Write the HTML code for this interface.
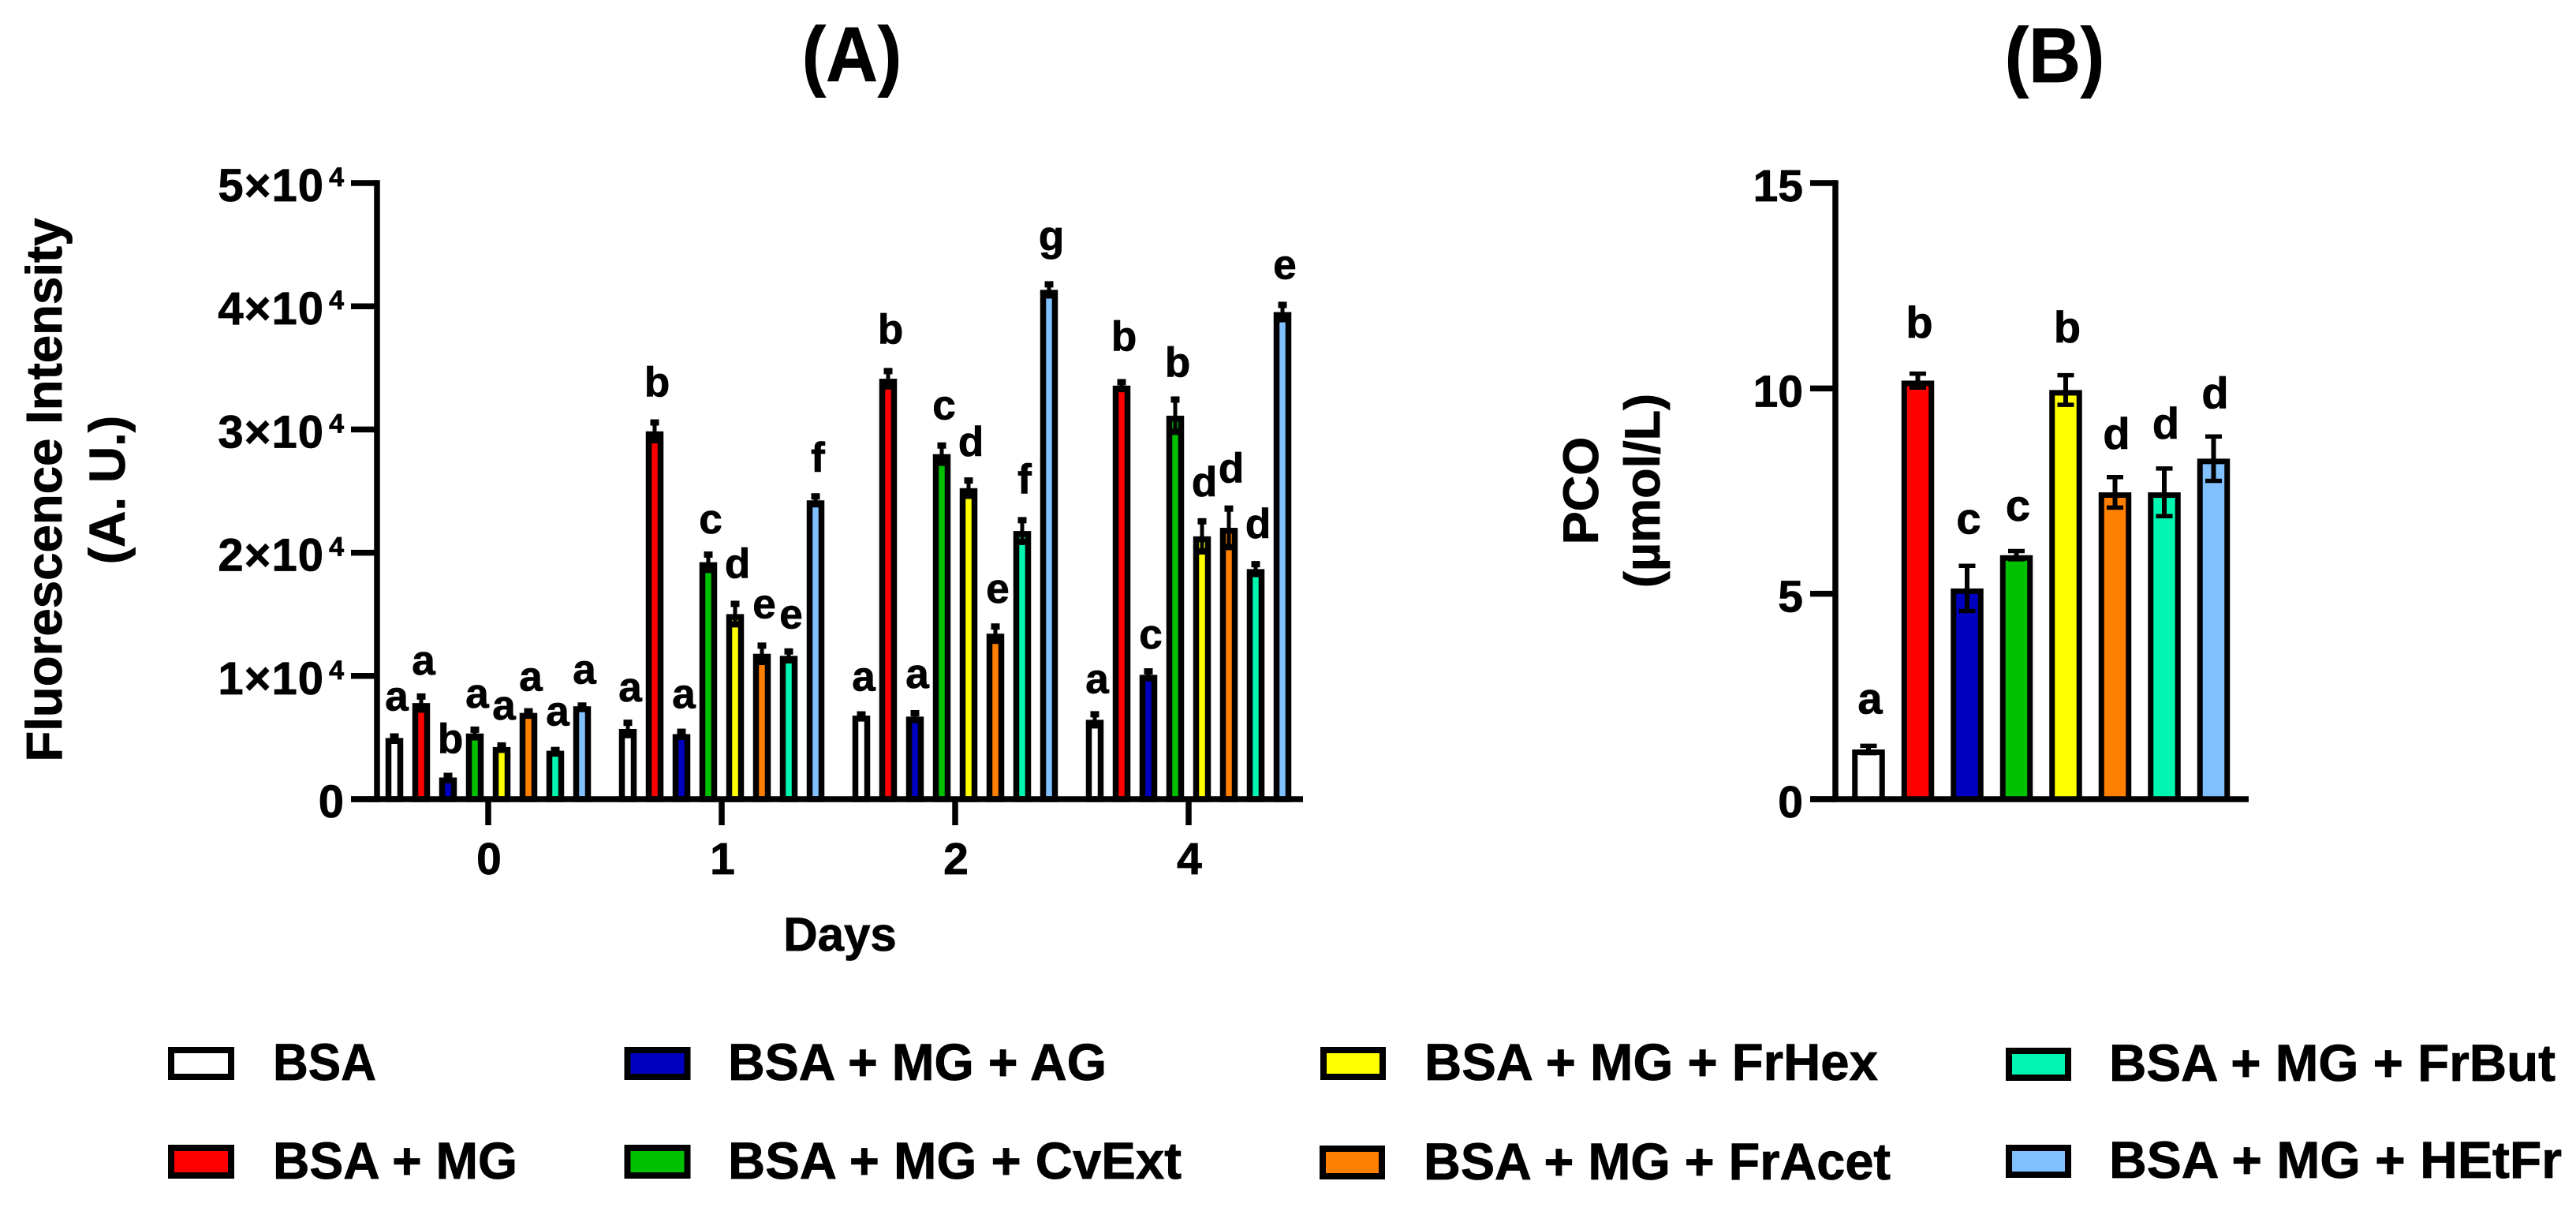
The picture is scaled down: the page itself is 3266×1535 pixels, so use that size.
<!DOCTYPE html>
<html lang="en">
<head>
<meta charset="utf-8">
<title>Fluorescence intensity and PCO</title>
<style>
html,body{margin:0;padding:0;background:#fff;}
svg{display:block;}
text{font-family:"Liberation Sans",Arial,sans-serif;font-weight:700;fill:#000;stroke:#000;stroke-width:0.8px;}
</style>
</head>
<body>
<svg id="fig" xmlns="http://www.w3.org/2000/svg" width="3266" height="1535" viewBox="0 0 3266 1535">
  <rect x="0" y="0" width="3266" height="1535" fill="#fff"/>
  <text transform="translate(1080,103) scale(0.93,1)" font-size="98" text-anchor="middle">(A)</text>
  <text transform="translate(2605,104) scale(0.93,1)" font-size="98" text-anchor="middle">(B)</text>

  <text transform="translate(78,621) rotate(-90)" font-size="63.6" text-anchor="middle">Fluorescence Intensity</text>
  <text transform="translate(158,621) rotate(-90)" font-size="64" text-anchor="middle">(A. U.)</text>
  <text x="1065" y="1205" font-size="60" text-anchor="middle">Days</text>

  <text transform="translate(2026,622) rotate(-90)" font-size="63" text-anchor="middle">PCO</text>
  <text transform="translate(2104,622) rotate(-90)" font-size="63" text-anchor="middle">(µmol/L)</text>

  <g id="panelA"></g>
  <g id="panelB"></g>

  <g>
    <g>
      <rect x="217" y="1331" width="76" height="34" fill="#ffffff" stroke="#000" stroke-width="8"/>
      <text x="346" y="1369" font-size="65.5" textLength="131" lengthAdjust="spacingAndGlyphs">BSA</text>
    </g>
    <g>
      <rect x="217" y="1455" width="76" height="35" fill="#ff0000" stroke="#000" stroke-width="8"/>
      <text x="346" y="1494" font-size="65.5" textLength="310" lengthAdjust="spacingAndGlyphs">BSA + MG</text>
    </g>
    <g>
      <rect x="795.5" y="1331" width="76" height="34" fill="#0000c0" stroke="#000" stroke-width="8"/>
      <text x="923" y="1369" font-size="65.5" textLength="480" lengthAdjust="spacingAndGlyphs">BSA + MG + AG</text>
    </g>
    <g>
      <rect x="795.5" y="1455" width="76" height="35" fill="#00c000" stroke="#000" stroke-width="8"/>
      <text x="923" y="1494" font-size="65.5" textLength="575" lengthAdjust="spacingAndGlyphs">BSA + MG + CvExt</text>
    </g>
    <g>
      <rect x="1678" y="1331" width="75" height="34" fill="#ffff00" stroke="#000" stroke-width="8"/>
      <text x="1806" y="1369" font-size="65.5" textLength="575" lengthAdjust="spacingAndGlyphs">BSA + MG + FrHex</text>
    </g>
    <g>
      <rect x="1677" y="1456" width="75" height="35" fill="#ff8000" stroke="#000" stroke-width="8"/>
      <text x="1805" y="1495" font-size="65.5" textLength="592" lengthAdjust="spacingAndGlyphs">BSA + MG + FrAcet</text>
    </g>
    <g>
      <rect x="2547" y="1332" width="75" height="34" fill="#00f5b0" stroke="#000" stroke-width="8"/>
      <text x="2674" y="1370" font-size="65.5" textLength="566" lengthAdjust="spacingAndGlyphs">BSA + MG + FrBut</text>
    </g>
    <g>
      <rect x="2547" y="1455" width="75" height="34" fill="#80c0ff" stroke="#000" stroke-width="8"/>
      <text x="2674" y="1493" font-size="65.5" textLength="574" lengthAdjust="spacingAndGlyphs">BSA + MG + HEtFr</text>
    </g>
  </g>
</svg>
<script>
// Panel A data
const dayCategories = ['0', '1', '2', '4'];
const seriesNames = ['bsa', 'bsa-mg', 'ag', 'cvext', 'frhex', 'fracet', 'frbut', 'hetfr'];
const seriesColors = ['#ffffff', '#ff0000', '#0000c0', '#00c000', '#ffff00', '#ff8000', '#00f5b0', '#80c0ff'];
const day0Values = [4960, 7800, 1760, 5330, 4230, 7000, 3930, 7540];
const day1Values = [5700, 29850, 5280, 19230, 15020, 11800, 11630, 24250];
const day2Values = [6780, 34120, 6700, 28000, 25240, 13430, 21760, 41330];
const day4Values = [6440, 33560, 10090, 31120, 21330, 22020, 18670, 39530];
const day0Errors = [130, 530, 130, 310, 130, 130, 60, 60];
const day1Errors = [500, 720, 190, 620, 830, 660, 360, 320];
const day2Errors = [100, 620, 280, 700, 620, 580, 880, 450];
const day4Errors = [450, 280, 280, 1310, 1220, 1560, 400, 580];
const day0Letters = ['a', 'a', 'b', 'a', 'a', 'a', 'a', 'a'];
const day1Letters = ['a', 'b', 'a', 'c', 'd', 'e', 'e', 'f'];
const day2Letters = ['a', 'b', 'a', 'c', 'd', 'e', 'f', 'g'];
const day4Letters = ['a', 'b', 'c', 'b', 'd', 'd', 'd', 'e'];
const day0LetterLift = [29, 24, 25, 24, 29, 22, 27, 24];
const day1LetterLift = [23, 29, 26, 23, 29, 31, 25, 27];
const day2LetterLift = [26, 31, 28, 29, 27, 26, 30, 39];
const day4LetterLift = [23, 36, 25, 25, 28, 29, 29, 29];
const yTicksA = [0, 10000, 20000, 30000, 40000, 50000];
const yTickMantissaA = ['0', '1×10', '2×10', '3×10', '4×10', '5×10'];
const yTickExponentA = ['', '4', '4', '4', '4', '4'];

// Panel B data
const pcoValues = [1.21, 10.19, 5.13, 5.94, 9.96, 7.47, 7.47, 8.29];
const pcoErrors = [0.09, 0.17, 0.55, 0.10, 0.36, 0.37, 0.58, 0.54];
const pcoLetters = ['a', 'b', 'c', 'c', 'b', 'd', 'd', 'd'];
const pcoLetterLift = [38, 43, 38, 36, 39, 33, 35, 33];
const yTicksB = [0, 5, 10, 15];
const yTickLabelsB = ['0', '5', '10', '15'];

const allValues = [day0Values, day1Values, day2Values, day4Values];
const allErrors = [day0Errors, day1Errors, day2Errors, day4Errors];
const allLetters = [day0Letters, day1Letters, day2Letters, day4Letters];
const allLifts = [day0LetterLift, day1LetterLift, day2LetterLift, day4LetterLift];

const SVGNS = 'http://www.w3.org/2000/svg';
function mk(parent, tag, attrs) {
  const n = document.createElementNS(SVGNS, tag);
  for (const k in attrs) n.setAttribute(k, attrs[k]);
  parent.appendChild(n);
  return n;
}

const baseY = 1013, topY = 232;
const yA = v => baseY - (v / 50000) * (baseY - topY);
const yB = v => baseY - (v / 15) * (baseY - topY);
const xA = (d, s) => 500 + d * 296 + s * 34;
const xB = s => 2369 + s * 62.5;

function drawBar(g, name, cx, topPx, width, sw, fill) {
  const b = mk(g, 'rect', {
    x: cx - width / 2 + sw / 2, y: topPx + sw / 2,
    width: width - sw, height: Math.max(0, baseY - topPx - sw / 2),
    fill: fill, stroke: '#000', 'stroke-width': sw
  });
  
  
}
function drawError(g, name, cx, hiPx, loPx, capW, stemW, capT) {
  const e = mk(g, 'g', {});
  
  
  mk(e, 'line', { x1: cx, x2: cx, y1: hiPx, y2: loPx, stroke: '#000', 'stroke-width': stemW });
  mk(e, 'line', { x1: cx - capW / 2, x2: cx + capW / 2, y1: hiPx, y2: hiPx, stroke: '#000', 'stroke-width': capT });
  mk(e, 'line', { x1: cx - capW / 2, x2: cx + capW / 2, y1: loPx, y2: loPx, stroke: '#000', 'stroke-width': capT });
}

// ---- Panel A ----
const gA = document.getElementById('panelA');
dayCategories.forEach((day, d) => {
  seriesNames.forEach((sn, s) => {
    const v = allValues[d][s], err = allErrors[d][s], cx = xA(d, s);
    drawBar(gA, 'bar-day' + day + '-' + sn, cx, yA(v), 22.5, 7.5, seriesColors[s]);
    drawError(gA, 'error-bar-day' + day + '-' + sn, cx, yA(v + err), yA(v - err), 11, 5, 8);
    const t = mk(gA, 'text', { x: cx + 3, y: yA(v + err) - 4 - allLifts[d][s], 'font-size': 53, 'text-anchor': 'middle' });
    t.textContent = allLetters[d][s];
    
    
  });
  const tx = xA(d, 3.5);
  const tick = mk(gA, 'line', { x1: tx, x2: tx, y1: baseY, y2: baseY + 33, stroke: '#000', 'stroke-width': 7.5 });
  
  
  const lab = mk(gA, 'text', { x: tx + 1, y: 1108, 'font-size': 57, 'text-anchor': 'middle' });
  lab.textContent = day;
  
  
});
yTicksA.forEach((v, i) => {
  const y = yA(v);
  const tick = mk(gA, 'line', { x1: 445, x2: 478, y1: y, y2: y, stroke: '#000', 'stroke-width': 7.5 });
  
  
  const lab = mk(gA, 'text', { x: 437, y: y + 23, 'font-size': 58, 'text-anchor': 'end', 'letter-spacing': 1 });
  
  
  const m = mk(lab, 'tspan', {});
  m.textContent = yTickMantissaA[i];
  if (yTickExponentA[i]) {
    const e = mk(lab, 'tspan', { 'font-size': 34, dy: -19, dx: 6 });
    e.textContent = yTickExponentA[i];
  }
});
const axisYA = mk(gA, 'line', { x1: 478, x2: 478, y1: topY - 3.75, y2: baseY + 3.75, stroke: '#000', 'stroke-width': 7.5 });


const axisXA = mk(gA, 'line', { x1: 445, x2: 1652, y1: baseY, y2: baseY, stroke: '#000', 'stroke-width': 7.5 });



// ---- Panel B ----
const gB = document.getElementById('panelB');
seriesNames.forEach((sn, s) => {
  const v = pcoValues[s], err = pcoErrors[s], cx = xB(s);
  drawBar(gB, 'pco-bar-' + sn, cx, yB(v), 41.5, 7, seriesColors[s]);
  drawError(gB, 'pco-error-bar-' + sn, cx, yB(v + err), yB(v - err), 21, 6, 5.5);
  const t = mk(gB, 'text', { x: cx + 2, y: yB(v + err) - 2.75 - pcoLetterLift[s], 'font-size': 56, 'text-anchor': 'middle' });
  t.textContent = pcoLetters[s];
  
  
});
yTicksB.forEach((v, i) => {
  const y = yB(v);
  const tick = mk(gB, 'line', { x1: 2295, x2: 2327, y1: y, y2: y, stroke: '#000', 'stroke-width': 7.5 });
  
  
  const lab = mk(gB, 'text', { x: 2286, y: y + 23, 'font-size': 57, 'text-anchor': 'end' });
  lab.textContent = yTickLabelsB[i];
  
  
});
const axisYB = mk(gB, 'line', { x1: 2327, x2: 2327, y1: topY - 3.75, y2: baseY + 3.75, stroke: '#000', 'stroke-width': 7.5 });


const axisXB = mk(gB, 'line', { x1: 2295, x2: 2851, y1: baseY, y2: baseY, stroke: '#000', 'stroke-width': 7.5 });


</script>
</body>
</html>
